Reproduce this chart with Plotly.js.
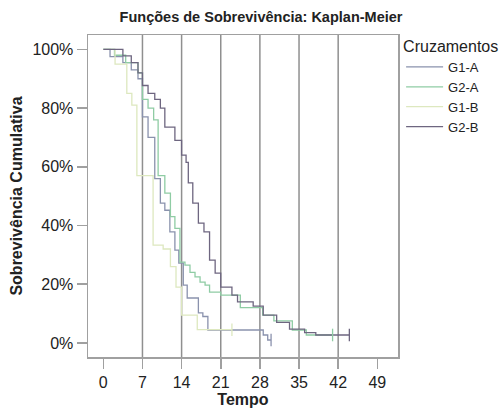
<!DOCTYPE html>
<html>
<head>
<meta charset="utf-8">
<script src="https://cdn.plot.ly/plotly-3.0.1.min.js"></script>
<style>html,body{margin:0;padding:0;background:#fff;}#chart{width:502px;height:409px;}</style>
</head>
<body>
<div id="chart"></div>
<script>
// Kaplan-Meier step data (time, cumulative survival)
const seriesNames = ["G1-A", "G2-A", "G1-B", "G2-B"];
const g1aT = [0, 1.2, 3.5, 5, 6.2, 7, 8, 9.2, 10.2, 11, 11.9, 12.8, 13.5, 14.3, 15, 17, 17.8, 18.7, 28.6, 29.4, 30];
const g1aS = [1, 0.975, 0.955, 0.93, 0.90, 0.77, 0.70, 0.56, 0.476, 0.452, 0.378, 0.316, 0.272, 0.197, 0.153, 0.102, 0.09, 0.044, 0.027, 0.01, 0.01];
const g2aT = [0, 2, 4, 6.2, 7, 8, 9, 9.8, 11, 12, 12.8, 13.7, 14.6, 15.5, 16.4, 17.3, 18.2, 19, 21, 24.5, 28.5, 30.5, 33.8, 36.3, 41];
const g2aS = [1, 0.98, 0.955, 0.92, 0.83, 0.80, 0.76, 0.57, 0.51, 0.43, 0.39, 0.275, 0.265, 0.24, 0.225, 0.207, 0.197, 0.173, 0.163, 0.12, 0.095, 0.075, 0.044, 0.027, 0.027];
const g1bT = [0, 2.1, 4.2, 5.1, 6, 8.9, 10.7, 12, 13, 14, 16.8, 23];
const g1bS = [1, 0.95, 0.85, 0.81, 0.57, 0.333, 0.32, 0.26, 0.19, 0.095, 0.045, 0.045];
const g2bT = [0, 3.5, 5, 6.2, 7, 8, 9.2, 10.2, 11, 12.8, 14, 14.8, 15.2, 16, 17, 18, 19, 20, 21, 23, 24, 26.8, 28.6, 31, 33.3, 36, 38, 44];
const g2bS = [1, 0.978, 0.955, 0.92, 0.877, 0.85, 0.83, 0.80, 0.735, 0.69, 0.64, 0.615, 0.545, 0.476, 0.408, 0.378, 0.282, 0.238, 0.19, 0.163, 0.14, 0.125, 0.095, 0.07, 0.047, 0.035, 0.027, 0.027];
const xTicks = [0, 7, 14, 21, 28, 35, 42, 49];
const gridX = [7, 14, 21, 28, 35, 42];
const yTicks = [0, 0.2, 0.4, 0.6, 0.8, 1.0];

const colors = ["#8a92ad", "#8fcca4", "#dde8bf", "#6e6680"];
const allT = [g1aT, g2aT, g1bT, g2bT];
const allS = [g1aS, g2aS, g1bS, g2bS];

const FONT = "Arial, 'Liberation Sans', sans-serif";
const traces = [];
for (let i = 0; i < 4; i++) {
  traces.push({
    x: allT[i], y: allS[i], type: "scatter", mode: "lines",
    line: {shape: "hv", color: colors[i], width: 1.3},
    name: seriesNames[i], legendgroup: seriesNames[i]
  });
}
for (let i = 0; i < 4; i++) {
  const n = allT[i].length - 1;
  traces.push({
    x: [allT[i][n]], y: [allS[i][n]], type: "scatter", mode: "markers",
    marker: {symbol: "line-ns-open", size: 9, color: colors[i], line: {color: colors[i], width: 1.3}},
    showlegend: false, legendgroup: seriesNames[i], hoverinfo: "skip"
  });
}

const shapes = gridX.map(v => ({
  type: "line", xref: "x", yref: "paper", x0: v, x1: v, y0: 0, y1: 1,
  line: {color: "#8f8f8f", width: 1.5}, layer: "below"
}));

const layout = {
  width: 502, height: 409,
  margin: {l: 88, r: 104, t: 35, b: 51.5, autoexpand: false},
  paper_bgcolor: "#ffffff", plot_bgcolor: "#ffffff",
  font: {family: FONT, color: "#222", size: 16},
  title: {text: "<b>Funções de Sobrevivência: Kaplan-Meier</b>", font: {family: FONT, size: 14.5, color: "#222"},
          x: 0.52, xanchor: "center", xref: "container", y: 0.958, yanchor: "middle"},
  xaxis: {
    range: [-2.74, 52.7], tickvals: xTicks, ticktext: xTicks.map(String),
    showgrid: false, zeroline: false, showline: true, mirror: true, linecolor: "#a0a0a0", linewidth: 1.5,
    ticks: "outside", ticklen: 10, tickcolor: "#a0a0a0", tickwidth: 1.5,
    tickfont: {family: FONT, size: 16, color: "#222"},
    title: {text: "<b>Tempo</b>", font: {family: FONT, size: 16, color: "#222"}, standoff: 4}
  },
  yaxis: {
    range: [-0.048, 1.049], tickvals: yTicks, tickformat: ".0%",
    showgrid: false, zeroline: false, showline: true, mirror: true, linecolor: "#a0a0a0", linewidth: 1.5,
    ticks: "outside", ticklen: 10, tickcolor: "#a0a0a0", tickwidth: 1.5,
    tickfont: {family: FONT, size: 16, color: "#222"},
    title: {text: "<b>Sobrevivência Cumulativa</b>", font: {family: FONT, size: 16, color: "#222"}, standoff: 6}
  },
  shapes: shapes,
  showlegend: true,
  legend: {
    x: 1.01, xanchor: "left", y: 1.012, yanchor: "top",
    bgcolor: "rgba(0,0,0,0)", borderwidth: 0,
    title: {text: "Cruzamentos", font: {family: FONT, size: 16, color: "#222"}, side: "top"},
    font: {family: FONT, size: 13, color: "#222"},
    itemwidth: 37, tracegroupgap: 0
  }
};
Plotly.newPlot("chart", traces, layout, {displayModeBar: false, staticPlot: true});
</script>
</body>
</html>
